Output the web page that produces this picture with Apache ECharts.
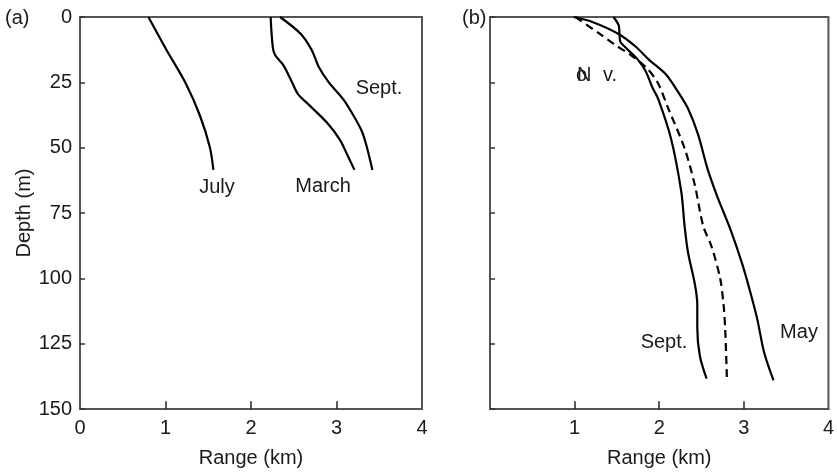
<!DOCTYPE html>
<html>
<head>
<meta charset="utf-8">
<script src="https://cdn.jsdelivr.net/npm/echarts@6/dist/echarts.min.js"></script>
<style>
html, body { margin: 0; padding: 0; background: #fff; }
#chart { width: 837px; height: 473px; }
</style>
</head>
<body>
<div id="chart"></div>
<script>
// depth ticks (m) and range ticks (km)
var depthTicks = [0, 25, 50, 75, 100, 125, 150];
var rangeTicks = [0, 1, 2, 3, 4];

// panel (a): [range km, depth m]
var julyA = [[0.80, 0], [1.01, 12.5], [1.23, 25], [1.40, 37.5], [1.52, 50], [1.56, 58.5]];
var marchA = [[2.23, 0], [2.24, 6], [2.26, 12.6], [2.29, 15], [2.38, 18.5], [2.48, 25], [2.55, 29.5],
	[2.69, 34], [2.89, 40.5], [3.04, 47], [3.13, 53], [3.21, 58.5]];
var septA = [[2.34, 0], [2.58, 6.4], [2.71, 12.6], [2.79, 18.9], [2.91, 25], [3.08, 31.5],
	[3.20, 37.8], [3.30, 44], [3.36, 50.4], [3.42, 58.5]];

// panel (b)
var mayB = [[0.99, 0], [1.21, 1.9], [1.52, 6.5], [1.72, 11.3], [1.88, 16.4], [2.08, 22], [2.22, 28.5],
	[2.34, 35], [2.46, 45], [2.57, 58], [2.69, 69], [2.85, 82], [2.98, 94.4], [3.08, 105.7],
	[3.16, 115.8], [3.24, 128.4], [3.35, 139]];
var septB = [[1.46, 0], [1.52, 3.1], [1.53, 6.3], [1.54, 9.4], [1.60, 11.6], [1.75, 16.4], [1.84, 20.8],
	[1.92, 27], [1.99, 31.5], [2.14, 46.6], [2.26, 66.7], [2.30, 80], [2.34, 90], [2.42, 102],
	[2.45, 110], [2.45, 119], [2.48, 129.6], [2.56, 138.4]];
var novB = [[1.01, 0], [1.29, 6.3], [1.48, 10.7], [1.66, 14.5], [1.85, 19.5], [1.98, 25], [2.11, 35.2],
	[2.30, 50.3], [2.42, 64.2], [2.52, 80], [2.62, 88], [2.72, 100], [2.76, 110], [2.78, 119.6],
	[2.80, 138.4]];

var font = 'Liberation Sans, Arial, sans-serif';
var fs = 20;
var ink = '#1a1a1a';
var axisGray = '#555';

function xAxisOf(idx, hideZero) {
	return {
		type: 'value', gridIndex: idx, position: 'bottom', min: rangeTicks[0], max: rangeTicks[rangeTicks.length - 1], interval: 1,
		name: 'Range (km)', nameLocation: 'middle', nameGap: 39,
		nameTextStyle: { fontFamily: font, fontSize: fs, color: ink },
		axisLine: { show: true, onZero: false, lineStyle: { color: axisGray, width: 2 } },
		axisTick: { show: false },
		axisLabel: {
			fontFamily: font, fontSize: fs, color: ink, margin: 9,
			formatter: function(v) { return (hideZero && v === 0) ? '' : v; }
		},
		splitLine: { show: false }
	};
}

function yAxisOf(idx, showLabels) {
	return {
		type: 'value', gridIndex: idx, position: 'left', inverse: true, min: depthTicks[0], max: depthTicks[depthTicks.length - 1], interval: 25,
		name: showLabels ? 'Depth (m)' : '', nameLocation: 'middle', nameGap: 46,
		nameTextStyle: { fontFamily: font, fontSize: fs, color: ink },
		axisLine: { show: true, onZero: false, lineStyle: { color: axisGray, width: 2 } },
		axisTick: { show: true, inside: true, length: 5, lineStyle: { color: '#333', width: 1.5 } },
		axisLabel: { show: showLabels, fontFamily: font, fontSize: fs, color: ink, margin: 8 },
		splitLine: { show: false }
	};
}

// short inward ticks on the bottom axis, placed in data coordinates
function bottomTicks() {
	var maxD = depthTicks[depthTicks.length - 1];
	return rangeTicks.slice(1, -1).map(function(v) {
		return [{ coord: [v, maxD] }, { coord: [v, maxD - 3] }];
	});
}

function line(name, data, idx, dashed, withTicks) {
	var s = {
		name: name, type: 'line', xAxisIndex: idx, yAxisIndex: idx,
		data: data, smooth: 0.3, showSymbol: false, symbol: 'none',
		lineStyle: { color: '#000', width: 2.2, type: dashed ? [8, 5] : 'solid' },
		animation: false
	};
	if (withTicks) {
		s.markLine = {
			silent: true, symbol: ['none', 'none'], animation: false,
			label: { show: false },
			lineStyle: { color: '#222', width: 1.5, type: 'solid' },
			data: bottomTicks()
		};
	}
	return s;
}

function txt(x, y, s, align) {
	return {
		type: 'text', x: x, y: y,
		style: { text: s, font: fs + 'px ' + font, fill: ink, align: align || 'center', verticalAlign: 'middle' }
	};
}

var myChart = echarts.init(document.getElementById('chart'));
var option = {
	backgroundColor: '#fff',
	animation: false,
	grid: [
		{ left: 80, top: 17, width: 342, height: 395, show: true, borderColor: axisGray, borderWidth: 2, z: 0 },
		{ left: 490, top: 17, width: 342, height: 395, show: true, borderColor: axisGray, borderWidth: 2, z: 0 }
	],
	xAxis: [xAxisOf(0, false), xAxisOf(1, true)],
	yAxis: [yAxisOf(0, true), yAxisOf(1, false)],
	series: [
		line('July', julyA, 0, false, true),
		line('March', marchA, 0, false),
		line('Sept.', septA, 0, false),
		line('May', mayB, 1, false, true),
		line('Sept.', septB, 1, false),
		line('Nov.', novB, 1, true)
	],
	graphic: [
		txt(5, 18, '(a)', 'left'),
		txt(462, 18, '(b)', 'left'),
		txt(217, 187, 'July'),
		txt(323, 186, 'March'),
		txt(379, 88, 'Sept.'),
		txt(577, 75, 'N', 'left'),
		txt(576, 75, 'o', 'left'),
		txt(603, 75, 'v.', 'left'),
		txt(664, 342, 'Sept.'),
		txt(799, 332, 'May')
	]
};
myChart.setOption(option);
</script>
</body>
</html>
